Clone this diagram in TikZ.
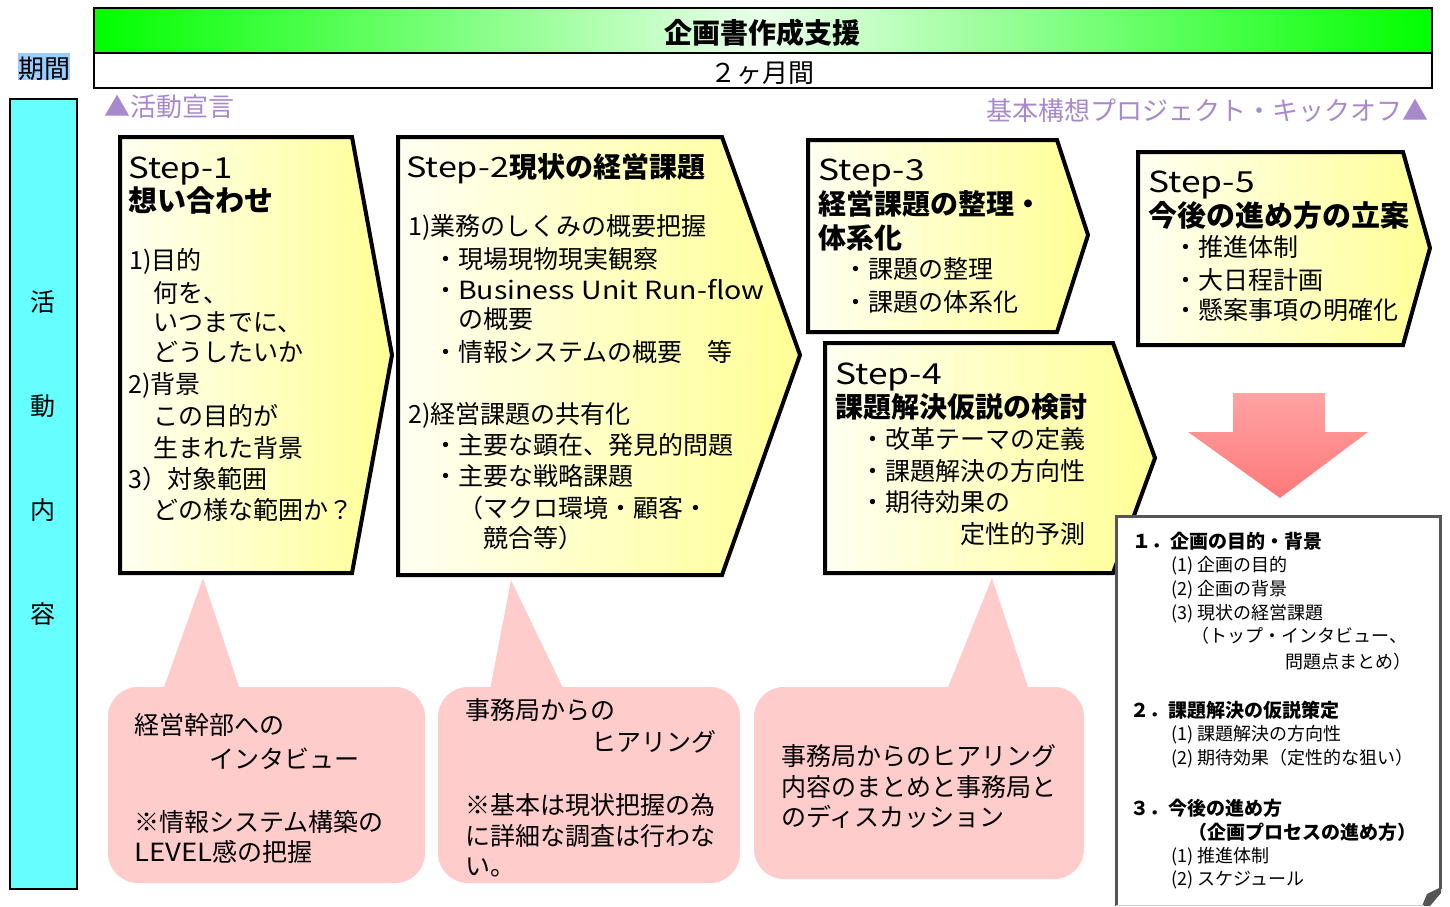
\documentclass[tikz,border=0pt]{standalone}
\usepackage{fontspec}
\setmainfont{Noto Sans CJK JP}
\newcommand\FS[1]{\fontsize{#1}{#1}\selectfont}
\newcommand\WL[2]{\scalebox{#1}[1]{#2}}
\definecolor{purp}{RGB}{168,138,204}
\definecolor{cyanc}{RGB}{102,255,255}
\definecolor{hiblue}{RGB}{153,204,255}
\definecolor{yelL}{RGB}{255,255,242}
\definecolor{yelR}{RGB}{255,255,150}
\definecolor{pinkc}{RGB}{255,204,204}
\definecolor{arrT}{RGB}{255,163,163}
\definecolor{arrB}{RGB}{255,120,120}
\definecolor{docgray}{RGB}{85,85,85}
\definecolor{grn}{RGB}{0,255,0}
\definecolor{grnM}{RGB}{235,255,235}
\begin{document}
\begin{tikzpicture}[x=1pt,y=-1pt,
  f/.style={anchor=west,inner sep=0pt,font=\FS{#1},text height={0.88*#1pt},text depth={0.12*#1pt}},
  stepbox/.style={draw=black,line width=4pt,line join=miter,left color=yelL,right color=yelR},
  callout/.style={fill=pinkc},
  plab/.style={f=26,text=purp}]
\useasboundingbox (0,0) rectangle (1450,906);
\fill[white] (0,0) rectangle (1450,906);
% top bars
\shade[left color=grn,right color=grnM] (94,8) rectangle (763,53);
\shade[left color=grnM,right color=grn] (762,8) rectangle (1432,53);
\draw[line width=2pt] (94,8) rectangle (1432,53);
\draw[line width=2pt] (94,53) rectangle (1432,88);
\node[f=28,anchor=center,font=\FS{28}\bfseries] (title) at (762,33) {企画書作成支援};
\node[f=26,anchor=center] (dur) at (762,73) {２ヶ月間};
% left labels
\fill[hiblue] (18,53) rectangle (70,80);
\node[f=26,anchor=center] (kikan) at (44,69) {期間};
\draw[line width=2pt,fill=cyanc] (10,99) rectangle (77,889);
\node[f=25,anchor=center] (v1) at (43,302) {活};
\node[f=25,anchor=center] (v2) at (43,406) {動};
\node[f=25,anchor=center] (v3) at (43,510) {内};
\node[f=25,anchor=center] (v4) at (43,614) {容};
% purple labels
\node[plab] (sengen) at (104,107) {▲活動宣言};
\node[plab,anchor=east] (kickoff) at (1429,111) {基本構想プロジェクト・キックオフ▲};
% callout pointers and bodies
\fill[callout] (203,578) -- (240,690) -- (163,690) -- cycle;
\fill[callout,rounded corners=30pt] (108,687) rectangle (425,883);
\fill[callout] (511,580) -- (564,690) -- (490,690) -- cycle;
\fill[callout,rounded corners=30pt] (438,687) rectangle (740,883);
\fill[callout] (992,578) -- (1029,690) -- (947,690) -- cycle;
\fill[callout,rounded corners=30pt] (754,687) rectangle (1084,879);
% step boxes
\path[stepbox] (120,137) -- (352,137) -- (392,355) -- (352,573) -- (120,573) -- cycle;
\path[stepbox] (398,137) -- (722,137) -- (800,355) -- (722,575) -- (398,575) -- cycle;
\path[stepbox] (808,140) -- (1057,140) -- (1088,235) -- (1057,332) -- (808,332) -- cycle;
\path[stepbox] (825,343) -- (1113,343) -- (1155,458) -- (1113,573) -- (825,573) -- cycle;
\path[stepbox] (1138,152) -- (1403,152) -- (1430,248) -- (1403,345) -- (1138,345) -- cycle;
% pink arrow
\shade[top color=arrT,bottom color=arrB] (1233,393) -- (1325,393) -- (1325,432) -- (1368,432) -- (1280,498) -- (1188,432) -- (1233,432) -- cycle;
% document box
\fill[white] (1115,515) rectangle (1441,906);
\draw[docgray,line width=3pt] (1116,906) -- (1116,516) -- (1440,516) -- (1440,889);
\fill[docgray] (1441,887) -- (1441,893) -- (1430,906) -- (1422,906) -- (1427,894) -- cycle;
\draw[gray!40,line width=1pt] (1116,905.5) -- (1424,905.5);
% Step 1
\node[f=29] (s1a) at (128,167) {\WL{1.2}{Step-1}};
\node[f=29,font=\FS{29}\bfseries] (s1b) at (128,200) {想い合わせ};
\node[f=25] (s1c) at (129,260) {1)目的};
\node[f=25] (s1d) at (153,293) {何を、};
\node[f=25] (s1e) at (153,322) {いつまでに、};
\node[f=25] (s1f) at (153,352) {どうしたいか};
\node[f=25] (s1g) at (128,384) {2)背景};
\node[f=25] (s1h) at (153,416) {この目的が};
\node[f=25] (s1i) at (153,448) {生まれた背景};
\node[f=25] (s1j) at (128,479) {3）対象範囲};
\node[f=25] (s1k) at (153,510) {どの様な範囲か？};
% Step 2
\node[f=28] (s2a) at (406,167) {\WL{1.22}{Step-2}\bfseries 現状の経営課題};
\node[f=25] (s2b) at (408,226) {1)業務のしくみの概要把握};
\node[f=25] (s2c) at (433,259) {・現場現物現実観察};
\node[f=25] (s2d) at (433,290) {・\WL{1.14}{Business Unit Run-flow}};
\node[f=25] (s2e) at (458,319) {の概要};
\node[f=25] (s2f) at (433,352) {・情報システムの概要　等};
\node[f=25] (s2g) at (408,414) {2)経営課題の共有化};
\node[f=25] (s2h) at (433,445) {・主要な顕在、発見的問題};
\node[f=25] (s2i) at (433,476) {・主要な戦略課題};
\node[f=25] (s2j) at (458,508) {（マクロ環境・顧客・};
\node[f=25] (s2k) at (483,538) {競合等）};
% Step 3
\node[f=29] (s3a) at (818,169) {\WL{1.22}{Step-3}};
\node[f=28,font=\FS{28}\bfseries] (s3b) at (818,204) {経営課題の整理・};
\node[f=28,font=\FS{28}\bfseries] (s3c) at (818,238) {体系化};
\node[f=25] (s3d) at (843,269) {・課題の整理};
\node[f=25] (s3e) at (843,302) {・課題の体系化};
% Step 4
\node[f=29] (s4a) at (835,373) {\WL{1.22}{Step-4}};
\node[f=28,font=\FS{28}\bfseries] (s4b) at (835,407) {課題解決仮説の検討};
\node[f=25] (s4c) at (860,439) {・改革テーマの定義};
\node[f=25] (s4d) at (860,471) {・課題解決の方向性};
\node[f=25] (s4e) at (860,502) {・期待効果の};
\node[f=25,anchor=east] (s4f) at (1086,534) {定性的予測};
% Step 5
\node[f=29] (s5a) at (1148,181) {\WL{1.22}{Step-5}};
\node[f=29,font=\FS{29}\bfseries] (s5b) at (1148,215) {今後の進め方の立案};
\node[f=25] (s5c) at (1173,247) {・推進体制};
\node[f=25] (s5d) at (1173,280) {・大日程計画};
\node[f=25] (s5e) at (1173,310) {・懸案事項の明確化};
% document text
\node[f=19,font=\FS{19}\bfseries] (d1) at (1132,541) {１．企画の目的・背景};
\node[f=18] (d2) at (1171,565) {(1) 企画の目的};
\node[f=18] (d3) at (1171,589) {(2) 企画の背景};
\node[f=18] (d4) at (1171,613) {(3) 現状の経営課題};
\node[f=18] (d5) at (1191,636) {（トップ・インタビュー、};
\node[f=18,anchor=east] (d6) at (1412,662) {問題点まとめ）};
\node[f=19,font=\FS{19}\bfseries] (d7) at (1130,710) {２．課題解決の仮説策定};
\node[f=18] (d8) at (1171,734) {(1) 課題解決の方向性};
\node[f=18] (d9) at (1171,758) {(2) 期待効果（定性的な狙い）};
\node[f=19,font=\FS{19}\bfseries] (d10) at (1130,808) {３．今後の進め方};
\node[f=19,font=\FS{19}\bfseries] (d11) at (1188,832) {（企画プロセスの進め方）};
\node[f=18] (d12) at (1171,856) {(1) 推進体制};
\node[f=18] (d13) at (1171,879) {(2) スケジュール};
% callout texts
\node[f=25] (c1a) at (134,725) {経営幹部への};
\node[f=25] (c1b) at (209,759) {インタビュー};
\node[f=25] (c1c) at (134,822) {※情報システム構築の};
\node[f=25] (c1d) at (134,852) {\WL{1.1}{LEVEL}感の把握};
\node[f=25] (c2a) at (465,710) {事務局からの};
\node[f=25] (c2b) at (591,742) {ヒアリング};
\node[f=25] (c2c) at (465,805) {※基本は現状把握の為};
\node[f=25] (c2d) at (465,836) {に詳細な調査は行わな};
\node[f=25] (c2e) at (465,866) {い。};
\node[f=25] (c3a) at (781,756) {事務局からのヒアリング};
\node[f=25] (c3b) at (781,787) {内容のまとめと事務局と};
\node[f=25] (c3c) at (781,817) {のディスカッション};
\end{tikzpicture}
\end{document}
